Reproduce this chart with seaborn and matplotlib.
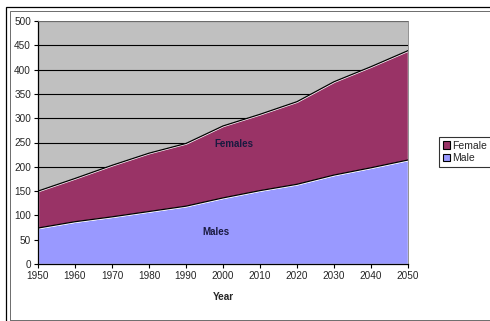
import matplotlib
matplotlib.use("Agg")
import matplotlib.pyplot as plt
import seaborn as sns
import pandas as pd
import numpy as np
from matplotlib.patches import Patch, Rectangle

years = [1950, 1960, 1970, 1980, 1990, 2000, 2010, 2020, 2030, 2040, 2050]
male = [74, 87, 97, 108, 119, 136, 151, 164, 183, 198, 214]
female = [76, 89, 106, 120, 129, 148, 157, 170, 192, 208, 225]
series_names = ["Female", "Male"]
region_labels = ["Females", "Males"]

sns.set_style("white")
plt.rcParams["font.family"] = ["Liberation Sans", "DejaVu Sans"]

df = pd.DataFrame({"Year": years, "Male": male, "Female": female})
df["Total"] = df["Male"] + df["Female"]

fig = plt.figure(figsize=(4.9, 3.21), dpi=100)
ax = fig.add_axes([38/490, 1-264/321, (408-38)/490, (264-21)/321])
ax.set_facecolor("#C0C0C0")

ax.stackplot(df["Year"], df["Male"], df["Female"], colors=["#9999FF", "#993366"], zorder=2)
sns.lineplot(data=df, x="Year", y="Male", color="black", lw=0.9, ax=ax, zorder=3)
sns.lineplot(data=df, x="Year", y="Total", color="black", lw=0.9, ax=ax, zorder=3)

ax.set_xlim(1950, 2050)
ax.set_ylim(0, 500)
ax.set_xticks(years)
ax.set_yticks(range(0, 501, 50))
ax.yaxis.grid(True, color="black", lw=0.8, zorder=1)
ax.set_axisbelow(True)
ax.tick_params(axis="both", labelsize=7.2, length=3, width=0.8, color="black", pad=2,
               direction="out", bottom=True, left=True)
ax.set_ylabel("")
ax.set_xlabel("Year", fontsize=7.2, fontweight="bold", labelpad=8)
for s in ["left", "bottom"]:
    ax.spines[s].set_color("black")
    ax.spines[s].set_linewidth(0.9)
for s in ["top", "right"]:
    ax.spines[s].set_color("#808080")
    ax.spines[s].set_linewidth(0.6)

ax.text(2003, 247, region_labels[0], fontsize=7, fontweight="bold", color="#1a1a40", ha="center", va="center", zorder=4)
ax.text(1998, 65, region_labels[1], fontsize=7, fontweight="bold", color="#1a1a40", ha="center", va="center", zorder=4)

handles = [Patch(facecolor="#993366", edgecolor="black", lw=0.8),
           Patch(facecolor="#9999FF", edgecolor="black", lw=0.8)]
leg = fig.legend(handles, series_names, loc="upper left", bbox_to_anchor=(439/490, 1-137/321),
                 fontsize=7.5, frameon=True, fancybox=False, handlelength=0.7, handleheight=0.7,
                 handletextpad=0.2, borderpad=0.35, labelspacing=0.25, borderaxespad=0)
leg.get_frame().set_edgecolor("black")
leg.get_frame().set_linewidth(0.8)

# outer double frame
fig.patches.append(Rectangle((6/490, -0.1), 1.2, 1.1-7/321, transform=fig.transFigure,
                             fill=False, edgecolor="black", lw=0.9))
fig.patches.append(Rectangle((10/490, 1.5/321), 1.2, 1-12.5/321, transform=fig.transFigure,
                             fill=False, edgecolor="#555555", lw=0.6))

fig.savefig("out.png", dpi=100)
